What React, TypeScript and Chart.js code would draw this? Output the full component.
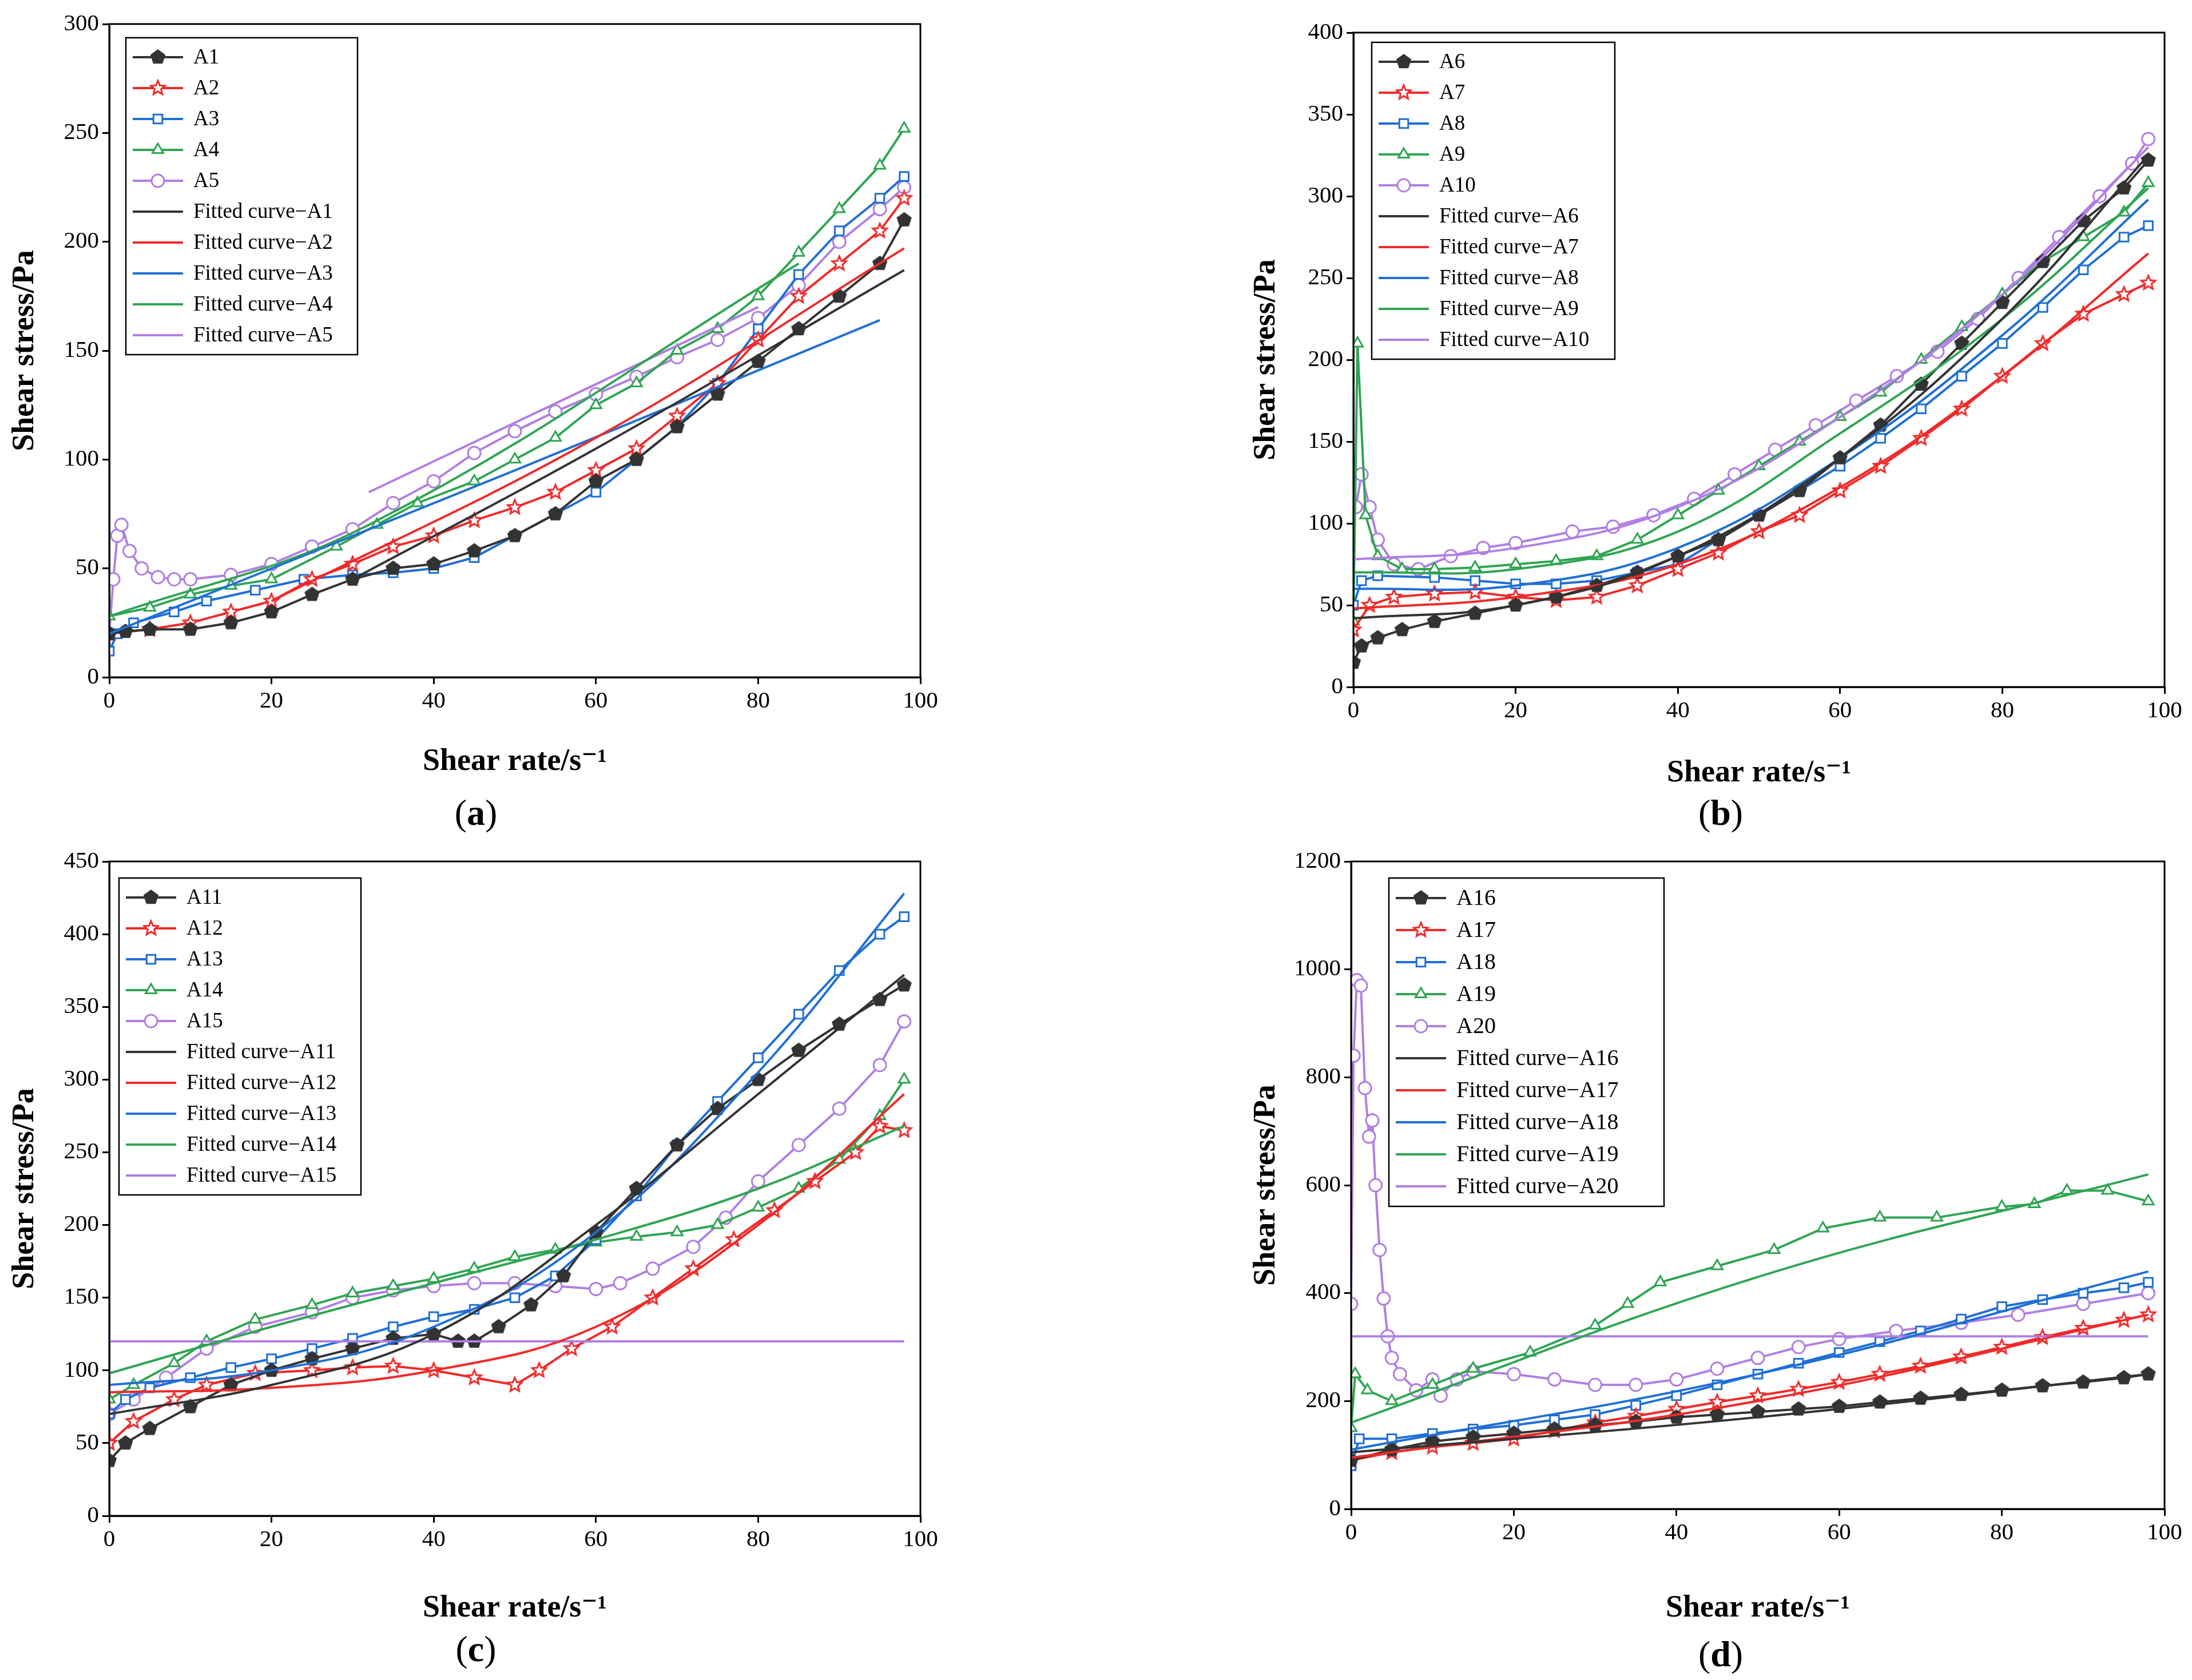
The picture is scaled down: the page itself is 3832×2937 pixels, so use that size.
import React, { useEffect, useRef } from "react";
import { Chart, registerables } from "chart.js";
import { drawPoint } from "chart.js/helpers";
Chart.register(...registerables);

type P = [number, number][];
// ---- panel (a) ----
const A1: P = [[0,20],[2,21],[5,22],[10,22],[15,25],[20,30],[25,38],[30,45],[35,50],[40,52],[45,58],[50,65],[55,75],[60,90],[65,100],[70,115],[75,130],[80,145],[85,160],[90,175],[95,190],[98,210]];
const A2: P = [[0,20],[5,22],[10,25],[15,30],[20,35],[25,45],[30,52],[35,60],[40,65],[45,72],[50,78],[55,85],[60,95],[65,105],[70,120],[75,135],[80,155],[85,175],[90,190],[95,205],[98,220]];
const A3: P = [[0,12],[1,20],[3,25],[8,30],[12,35],[18,40],[24,45],[30,47],[35,48],[40,50],[45,55],[50,65],[55,75],[60,85],[65,100],[70,115],[75,135],[80,160],[85,185],[90,205],[95,220],[98,230]];
const A4: P = [[0,28],[5,32],[10,38],[15,42],[20,45],[28,60],[33,70],[38,80],[45,90],[50,100],[55,110],[60,125],[65,135],[70,150],[75,160],[80,175],[85,195],[90,215],[95,235],[98,252]];
const A5: P = [[0,20],[0.5,45],[1,65],[1.5,70],[2.5,58],[4,50],[6,46],[8,45],[10,45],[15,47],[20,52],[25,60],[30,68],[35,80],[40,90],[45,103],[50,113],[55,122],[60,130],[65,138],[70,147],[75,155],[80,165],[85,180],[90,200],[95,215],[98,225]];
const F1: P = [[30,45],[60,105],[98,187]];
const F2: P = [[20,35],[60,110],[98,197]];
const F3: P = [[0,20],[50,95],[95,164]];
const F4: P = [[0,28],[32,70],[85,190]];
const F5: P = [[32,85],[80,170]];
// ---- panel (b) ----
const A6: P = [[0,15],[1,25],[3,30],[6,35],[10,40],[15,45],[20,50],[25,55],[30,62],[35,70],[40,80],[45,90],[50,105],[55,120],[60,140],[65,160],[70,185],[75,210],[80,235],[85,260],[90,285],[95,305],[98,322]];
const A7: P = [[0,35],[2,50],[5,55],[10,57],[15,58],[20,55],[25,53],[30,55],[35,62],[40,72],[45,82],[50,95],[55,105],[60,120],[65,135],[70,152],[75,170],[80,190],[85,210],[90,228],[95,240],[98,247]];
const A8: P = [[0,50],[1,65],[3,68],[10,67],[15,65],[20,63],[25,63],[30,65],[35,70],[40,75],[45,90],[50,105],[55,120],[60,135],[65,152],[70,170],[75,190],[80,210],[85,232],[90,255],[95,275],[98,282]];
const A9: P = [[0,40],[0.5,210],[1.5,105],[3,80],[6,72],[10,72],[15,73],[20,75],[25,77],[30,80],[35,90],[40,105],[45,120],[50,135],[55,150],[60,165],[65,180],[70,200],[75,220],[80,240],[85,260],[90,275],[95,290],[98,308]];
const A10: P = [[0.3,110],[1,130],[2,110],[3,90],[5,75],[8,72],[12,80],[16,85],[20,88],[27,95],[32,98],[37,105],[42,115],[47,130],[52,145],[57,160],[62,175],[67,190],[72,205],[77,225],[82,250],[87,275],[92,300],[96,320],[98,335]];
const F6: P = [[0,42],[20,50],[40,80],[60,140],[80,225],[98,325]];
const F7: P = [[0,48],[20,55],[40,75],[60,122],[80,190],[98,265]];
const F8: P = [[0,60],[20,62],[40,85],[60,140],[80,215],[98,298]];
const F9: P = [[0,70],[20,72],[40,95],[60,155],[80,225],[98,305]];
const F10: P = [[0,78],[20,85],[40,110],[60,165],[80,240],[98,330]];
// ---- panel (c) ----
const A11: P = [[0,38],[2,50],[5,60],[10,75],[15,90],[20,100],[25,108],[30,115],[35,122],[40,125],[43,120],[45,120],[48,130],[52,145],[56,165],[60,195],[65,225],[70,255],[75,280],[80,300],[85,320],[90,338],[95,355],[98,365]];
const A12: P = [[0,50],[3,65],[8,80],[12,90],[18,98],[25,100],[30,102],[35,103],[40,100],[45,95],[50,90],[53,100],[57,115],[62,130],[67,150],[72,170],[77,190],[82,210],[87,230],[92,250],[95,268],[98,265]];
const A13: P = [[0,70],[2,80],[5,88],[10,95],[15,102],[20,108],[25,115],[30,122],[35,130],[40,137],[45,142],[50,150],[55,165],[60,190],[65,220],[70,255],[75,285],[80,315],[85,345],[90,375],[95,400],[98,412]];
const A14: P = [[0,80],[3,90],[8,105],[12,120],[18,135],[25,145],[30,153],[35,158],[40,163],[45,170],[50,178],[55,183],[60,188],[65,192],[70,195],[75,200],[80,212],[85,225],[90,245],[95,275],[98,300]];
const A15: P = [[0,70],[3,80],[7,95],[12,115],[18,130],[25,140],[30,150],[35,155],[40,158],[45,160],[50,160],[55,158],[60,156],[63,160],[67,170],[72,185],[76,205],[80,230],[85,255],[90,280],[95,310],[98,340]];
const F11: P = [[0,70],[20,90],[40,125],[60,200],[80,290],[98,372]];
const F12: P = [[0,85],[20,88],[40,100],[60,130],[80,200],[98,290]];
const F13: P = [[0,90],[20,100],[40,130],[60,195],[80,305],[98,428]];
const F14: P = [[0,98],[20,130],[40,160],[60,190],[80,225],[98,268]];
const F15: P = [[0,120],[98,120]];
// ---- panel (d) ----
const A16: P = [[0,90],[5,110],[10,125],[15,133],[20,140],[25,148],[30,155],[35,162],[40,170],[45,175],[50,180],[55,185],[60,190],[65,198],[70,205],[75,212],[80,220],[85,228],[90,235],[95,243],[98,250]];
const A17: P = [[0,90],[5,105],[10,115],[15,122],[20,130],[25,145],[30,160],[35,172],[40,185],[45,198],[50,210],[55,222],[60,235],[65,250],[70,265],[75,282],[80,300],[85,318],[90,335],[95,350],[98,360]];
const A18: P = [[0,80],[1,130],[5,130],[10,140],[15,148],[20,155],[25,165],[30,175],[35,192],[40,210],[45,230],[50,250],[55,270],[60,290],[65,310],[70,330],[75,352],[80,375],[85,388],[90,400],[95,410],[98,420]];
const A19: P = [[0,150],[0.5,250],[2,220],[5,200],[10,230],[15,260],[22,290],[30,340],[34,380],[38,420],[45,450],[52,480],[58,520],[65,540],[72,540],[80,560],[84,565],[88,590],[93,590],[98,570]];
const A20: P = [[0,380],[0.3,840],[0.7,980],[1.2,970],[1.7,780],[2.2,690],[2.6,720],[3,600],[3.5,480],[4,390],[4.5,320],[5,280],[6,250],[8,220],[10,240],[11,210],[13,240],[15,255],[20,250],[25,240],[30,230],[35,230],[40,240],[45,260],[50,280],[55,300],[60,315],[67,330],[75,345],[82,360],[90,380],[98,400]];
const F16: P = [[0,105],[50,170],[98,250]];
const F17: P = [[0,95],[50,200],[98,360]];
const F18: P = [[0,110],[50,250],[98,440]];
const F19: P = [[0,160],[50,430],[98,620]];
const F20: P = [[0,320],[98,320]];

const COLORS = ["#333333", "#f02a2a", "#1f6fd6", "#2fa552", "#b07fe3"];
const FONT = "'Liberation Serif', 'DejaVu Serif', serif";

function makeShape(kind: string, color: string, r: number) {
  const c = document.createElement("canvas");
  const s = Math.ceil(r * 2 + 6);
  c.width = s; c.height = s;
  const g = c.getContext("2d")!;
  g.translate(s / 2, s / 2);
  g.beginPath();
  const n = kind === "pent" ? 5 : 10;
  for (let i = 0; i < n; i++) {
    const a = -Math.PI / 2 + (i * 2 * Math.PI) / n;
    const rr = kind === "pent" ? r : i % 2 === 0 ? r : r * 0.45;
    const x = rr * Math.cos(a), y = rr * Math.sin(a);
    i === 0 ? g.moveTo(x, y) : g.lineTo(x, y);
  }
  g.closePath();
  g.lineWidth = 3;
  if (kind === "pent") { g.fillStyle = color; g.fill(); }
  else { g.fillStyle = "#fff"; g.fill(); }
  g.strokeStyle = color; g.stroke();
  return c;
}

type PanelCfg = {
  names: string[]; data: P[]; fits: P[]; ymax: number; ystep: number;
  left: number; top: number; w: number; h: number;
  yw: number; padR: number; padT: number; xh: number;
  lg: { dx: number; dy: number; w: number; pitch: number; fs: number };
};

const panels: PanelCfg[] = [
  { names: ["A1","A2","A3","A4","A5"], data: [A1,A2,A3,A4,A5], fits: [F1,F2,F3,F4,F5], ymax: 300, ystep: 50,
    left: 0, top: 0, w: 1700, h: 1360, yw: 183, padR: 99, padT: 34, xh: 184, lg: { dx: 29, dy: 24, w: 405, pitch: 54, fs: 37 } },
  { names: ["A6","A7","A8","A9","A10"], data: [A6,A7,A8,A9,A10], fits: [F6,F7,F8,F9,F10], ymax: 400, ystep: 50,
    left: 2170, top: 0, w: 1700, h: 1380, yw: 188, padR: 94, padT: 49, xh: 187, lg: { dx: 32, dy: 17, w: 425, pitch: 54, fs: 37 } },
  { names: ["A11","A12","A13","A14","A15"], data: [A11,A12,A13,A14,A15], fits: [F11,F12,F13,F14,F15], ymax: 450, ystep: 50,
    left: 0, top: 1440, w: 1700, h: 1400, yw: 183, padR: 99, padT: 58, xh: 198, lg: { dx: 17, dy: 29, w: 423, pitch: 54, fs: 37 } },
  { names: ["A16","A17","A18","A19","A20"], data: [A16,A17,A18,A19,A20], fits: [F16,F17,F18,F19,F20], ymax: 1200, ystep: 200,
    left: 2170, top: 1440, w: 1700, h: 1400, yw: 184, padR: 94, padT: 58, xh: 210, lg: { dx: 66, dy: 29, w: 481, pitch: 56, fs: 40 } },
];

function Panel({ cfg }: { cfg: PanelCfg }) {
  const ref = useRef<HTMLCanvasElement>(null);
  useEffect(() => {
    const styles: any[] = [
      makeShape("pent", COLORS[0], 12),
      makeShape("star", COLORS[1], 13),
      "rect", "triangle", "circle",
    ];
    const datasets: any[] = [];
    cfg.data.forEach((d, i) => {
      datasets.push({
        label: cfg.names[i], data: d.map(([x, y]) => ({ x, y })),
        borderColor: COLORS[i], backgroundColor: i === 0 ? COLORS[0] : "#ffffff",
        borderWidth: 4, pointStyle: styles[i], pointRadius: 11, pointBorderWidth: 3,
        pointBorderColor: COLORS[i], pointBackgroundColor: i === 0 ? COLORS[0] : "#ffffff",
        order: 2,
      });
    });
    cfg.fits.forEach((d, i) => {
      datasets.push({
        label: "Fitted curve\u2212" + cfg.names[i], data: d.map(([x, y]) => ({ x, y })),
        borderColor: COLORS[i], borderWidth: 4, pointRadius: 0, tension: 0.4, order: 1,
      });
    });
    const frame = {
      id: "frame",
      afterDatasetsDraw(chart: any) {
        const { ctx, chartArea: a } = chart;
        ctx.save();
        ctx.strokeStyle = "#000"; ctx.lineWidth = 3;
        ctx.strokeRect(a.left, a.top, a.right - a.left, a.bottom - a.top);
        const L = cfg.lg;
        const bx = a.left + L.dx, by = a.top + L.dy;
        const bh = L.pitch * 10 + 14;
        ctx.fillStyle = "#fff"; ctx.fillRect(bx, by, L.w, bh);
        ctx.lineWidth = 2.5; ctx.strokeRect(bx, by, L.w, bh);
        ctx.font = `${L.fs}px ${FONT}`; ctx.textBaseline = "middle";
        chart.data.datasets.forEach((ds: any, i: number) => {
          const y = by + 7 + L.pitch * (i + 0.5);
          ctx.strokeStyle = ds.borderColor; ctx.lineWidth = 4;
          ctx.beginPath(); ctx.moveTo(bx + 12, y); ctx.lineTo(bx + 100, y); ctx.stroke();
          if (i < 5) {
            ctx.fillStyle = ds.pointBackgroundColor; ctx.strokeStyle = ds.borderColor; ctx.lineWidth = 3;
            drawPoint(ctx, { pointStyle: ds.pointStyle, radius: 11, rotation: 0, borderWidth: 3 } as any, bx + 56, y);
          }
          ctx.fillStyle = "#000";
          ctx.fillText(ds.label, bx + 118, y + 1);
        });
        ctx.restore();
      },
    };
    const tickFont = { family: FONT, size: 41 };
    const titleFont = { family: FONT, size: 54, weight: "bold" as const };
    const chart = new Chart(ref.current!, {
      type: "line",
      data: { datasets },
      plugins: [frame],
      options: {
        animation: false, responsive: false, maintainAspectRatio: false,
        layout: { padding: { left: 0, right: cfg.padR, top: cfg.padT, bottom: 0 } },
        plugins: { legend: { display: false }, tooltip: { enabled: false } },
        scales: {
          x: {
            type: "linear", min: 0, max: 100,
            ticks: { stepSize: 20, font: tickFont, color: "#000", padding: 6, callback: (v: any) => String(v) },
            grid: { drawOnChartArea: false, tickLength: 12, color: "#000", lineWidth: 3 },
            border: { color: "#000", width: 3 },
            title: { display: true, text: "Shear rate/s\u207B\u00B9", font: titleFont, color: "#000", padding: { top: 8 } },
            afterFit: (s: any) => { s.height = cfg.xh; },
          },
          y: {
            type: "linear", min: 0, max: cfg.ymax,
            ticks: { stepSize: cfg.ystep, font: tickFont, color: "#000", padding: 6, callback: (v: any) => String(v) },
            grid: { drawOnChartArea: false, tickLength: 12, color: "#000", lineWidth: 3 },
            border: { color: "#000", width: 3 },
            title: { display: true, text: "Shear stress/Pa", font: titleFont, color: "#000", padding: { bottom: 4 } },
            afterFit: (s: any) => { s.width = cfg.yw; },
          },
        },
      } as any,
    });
    return () => chart.destroy();
  }, []);
  return (
    <canvas ref={ref} width={cfg.w} height={cfg.h}
      style={{ position: "absolute", left: cfg.left, top: cfg.top, width: cfg.w, height: cfg.h }} />
  );
}

const captions = [
  { t: "a", x: 824, y: 1413 },
  { t: "b", x: 3000, y: 1413 },
  { t: "c", x: 824, y: 2875 },
  { t: "d", x: 3000, y: 2884 },
];

export default function App() {
  return (
    <div style={{ position: "relative", width: 3832, height: 2937, background: "#fff", fontFamily: FONT }}>
      {panels.map((p, i) => <Panel key={i} cfg={p} />)}
      {captions.map((c) => (
        <div key={c.t} style={{ position: "absolute", left: c.x - 70, top: c.y - 45, width: 140, textAlign: "center", fontSize: 64, lineHeight: "90px", color: "#000" }}>
          (<b>{c.t}</b>)
        </div>
      ))}
    </div>
  );
}
